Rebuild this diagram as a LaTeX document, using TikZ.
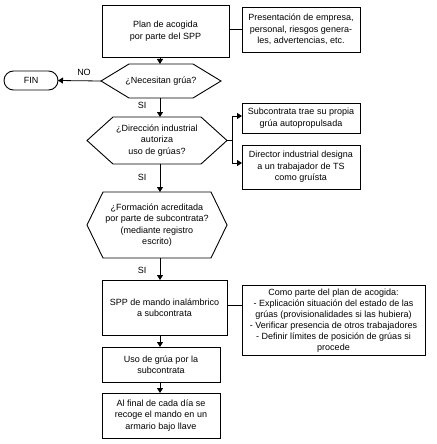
\documentclass[tikz,border=0pt]{standalone}
\usepackage{fontspec}
\setmainfont{Liberation Sans}
\usetikzlibrary{arrows.meta,calc}
\begin{document}
\begin{tikzpicture}[x=1pt,y=-1pt,
  font=\fontsize{9}{11.5}\selectfont,
  box/.style={draw,line width=0.9pt,inner sep=0pt,outer sep=0pt,align=center,minimum width=#1},
  hexa/.style={inner sep=0pt,outer sep=0pt,align=center,minimum width=#1},
  conn/.style={line width=0.8pt},
  arr/.style={line width=0.8pt,-{Triangle[width=6pt,length=5pt]}},
  lbl/.style={inner sep=0pt}]
\useasboundingbox (0,0) rectangle (436,444);
\coordinate (axis) at (160,0);
\coordinate (branch) at (232,0);
% nodes
\node[box=127pt,minimum height=52pt] (b1) at (165.5,31) {Plan de acogida\\por parte del SPP};
\node[box=118pt,minimum height=45pt] (r1) at (301,29.5) {Presentación de empresa,\\personal, riesgos genera-\\les, advertencias, etc.};
\node[hexa=120pt,minimum height=34pt] (h1) at (161,81) {¿Necesitan grúa?};
\node[box=54pt,minimum height=19pt,rounded corners=9.5pt] (fin) at (31,80.5) {FIN};
\node[hexa=140pt,minimum height=47pt] (h2) at (157,140.5) {¿Dirección industrial\\autoriza\\uso de grúas?};
\node[box=118pt,minimum height=30pt] (r2) at (301,118) {Subcontrata trae su propia\\grúa autopropulsada};
\node[box=118pt,minimum height=44pt] (r3) at (301,167) {Director industrial designa\\a un trabajador de TS\\como gruísta};
\node[hexa=140pt,minimum height=66pt] (h3) at (157,225) {¿Formación acreditada\\por parte de subcontrata?\\(mediante registro\\escrito)};
\node[box=125pt,minimum height=55pt] (spp) at (164.5,307.5) {SPP de mando inalámbrico\\a subcontrata};
\node[box=183pt,minimum height=70pt,font=\fontsize{9}{11}\selectfont] (r4) at (333.5,320.5) {Como parte del plan de acogida:\\- Explicación situación del estado de las\\grúas (provisionalidades si las hubiera)\\- Verificar presencia de otros trabajadores\\- Definir límites de posición de grúas si\\procede};
\node[box=118pt,minimum height=35pt] (uso) at (161,364.5) {Uso de grúa por la\\subcontrata};
\node[box=118pt,minimum height=45pt] (fin2) at (161,415.5) {Al final de cada día se\\recoge el mando en un\\armario bajo llave};
% hexagon outlines
\foreach \h/\s in {h1/28,h2/26,h3/16}{
  \draw[line width=0.9pt] (\h.west) -- ([xshift=\s]\h.north west) -- ([xshift=-\s]\h.north east)
    -- (\h.east) -- ([xshift=-\s]\h.south east) -- ([xshift=\s]\h.south west) -- cycle;
}
% labels
\node[lbl] (no) at (84,72) {NO};
\node[lbl] (si1) at (142,105) {SI};
\node[lbl] (si2) at (142,177) {SI};
\node[lbl] (si3) at (142,270) {SI};
% connectors
\draw[conn] (r1.west -| b1.east) -- (r1.west);
\draw[arr] (b1.south -| axis) -- (h1.north -| axis);
\draw[arr] (h1.west) -- (fin.east);
\draw[arr] (h1.south -| axis) -- (h2.north -| axis);
\draw[conn] (h2.east) -- (h2.east -| branch);
\draw[arr] (h2.east -| branch) |- ([yshift=2pt]r2.west);
\draw[arr] (h2.east -| branch) |- ([yshift=4pt]r3.west);
\draw[arr] (h2.south -| axis) -- (h3.north -| axis);
\draw[arr] (h3.south -| axis) -- (spp.north -| axis);
\draw[conn] ([yshift=2pt]spp.east) -- ([yshift=2pt]spp.east -| r4.west);
\draw[arr] (spp.south -| axis) -- (uso.north -| axis);
\draw[arr] (uso.south -| axis) -- (fin2.north -| axis);
\end{tikzpicture}
\end{document}
